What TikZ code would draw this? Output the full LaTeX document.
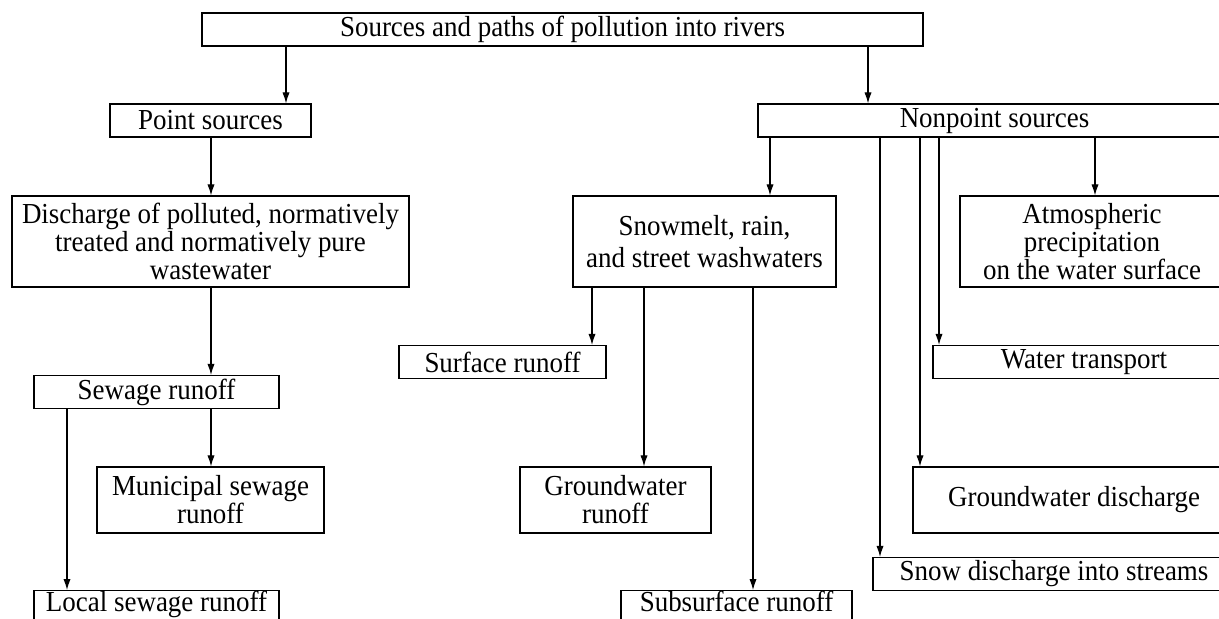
\documentclass[tikz,border=0pt]{standalone}
\usepackage{fontspec}
\setmainfont{Liberation Serif}[FakeStretch=0.93]
\usetikzlibrary{arrows.meta}

\begin{document}
\begin{tikzpicture}[
            x=0.5pt, y=-0.5pt,
            font=\fontsize{14.5}{14}\selectfont,
            box/.style={rectangle, draw, line width=0.6pt, inner sep=0pt, align=center, minimum height=16.5pt},
            midbox/.style={box, minimum height=33pt},
            tallbox/.style={box, minimum height=45.5pt},
            cutbox/.style={box, anchor=north, text depth=6pt},
            arrow/.style={-{Latex[length=5.5pt, width=3.6pt]}, line width=0.55pt}
        ]
            \useasboundingbox (0,0) rectangle (1219,618);

            % top and the two kinds of sources
            \node[box, minimum width=360.5pt] (rivers) at (562.5,29.5) {Sources and paths of pollution into rivers};
            \node[box, minimum width=100.5pt] (point) at (210.5,120.5) {Point sources};
            \node[box, minimum width=236.5pt] (nonpoint) at (994.5,120.5) {Nonpoint sources};

            % point sources branch
            \node[tallbox, minimum width=198.5pt] (discharge) at (210.5,241.5) {Discharge of polluted, normatively\\ treated and normatively pure\\ wastewater};
            \node[box, minimum width=122.5pt] (sewage) at (156.5,392) {Sewage runoff};
            \node[midbox, minimum width=113.5pt] (municipal) at (210.5,500) {Municipal sewage\\ runoff};
            \node[cutbox, minimum width=122.5pt] (local) at (156.5,590) {Local sewage runoff};

            % nonpoint sources branch
            \node[tallbox, minimum width=131.5pt] (snowmelt) at (704.5,241.5) {Snowmelt, rain,\\[2pt] and street washwaters};
            \node[tallbox, minimum width=132pt] (atmos) at (1092,241.5) {Atmospheric\\ precipitation\\ on the water surface};
            \node[box, minimum width=103.5pt] (surface) at (502.5,362) {Surface runoff};
            \node[box, minimum width=151pt] (transport) at (1084,362) {Water transport};
            \node[midbox, minimum width=95.5pt] (gwrunoff) at (615.5,500) {Groundwater\\ runoff};
            \node[midbox, minimum width=161pt] (gwdischarge) at (1074,500) {Groundwater discharge};
            \node[box, minimum width=181pt] (snowdis) at (1054,574) {Snow discharge into streams};
            \node[cutbox, minimum width=115.5pt] (subsurface) at (736.5,590) {Subsurface runoff};

            \draw[arrow] (rivers.south -| 286,0) -- (point.north -| 286,0);
            \draw[arrow] (rivers.south -| 868,0) -- (nonpoint.north -| 868,0);

            \draw[arrow] (point.south -| 211,0) -- (discharge.north -| 211,0);
            \draw[arrow] (discharge.south -| 211,0) -- (sewage.north -| 211,0);
            \draw[arrow] (sewage.south -| 211,0) -- (municipal.north -| 211,0);
            \draw[arrow] (sewage.south -| 67,0) -- (local.north -| 67,0);

            \draw[arrow] (nonpoint.south -| 770,0) -- (snowmelt.north -| 770,0);
            \draw[arrow] (nonpoint.south -| 1095,0) -- (atmos.north -| 1095,0);
            \draw[arrow] (nonpoint.south -| 880,0) -- (snowdis.north -| 880,0);
            \draw[arrow] (nonpoint.south -| 920,0) -- (gwdischarge.north -| 920,0);
            \draw[arrow] (nonpoint.south -| 939,0) -- (transport.north -| 939,0);

            \draw[arrow] (snowmelt.south -| 592,0) -- (surface.north -| 592,0);
            \draw[arrow] (snowmelt.south -| 644,0) -- (gwrunoff.north -| 644,0);
            \draw[arrow] (snowmelt.south -| 753,0) -- (subsurface.north -| 753,0);
        \end{tikzpicture}
\end{document}
